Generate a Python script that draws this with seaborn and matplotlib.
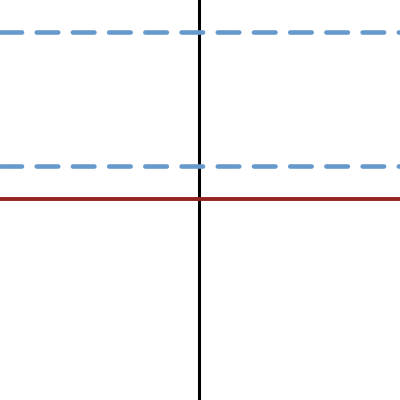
import pandas as pd
import numpy as np
import matplotlib
matplotlib.use('Agg')
import matplotlib.pyplot as plt
import seaborn as sns

# chart values (data units, axes run 0..100 in y and -1..1 in x)
x_span = [-1, 1]
vline_x = -0.003
red_level = 50.3
blue_levels = [58.6, 92.0]

sns.set_style('white')

fig = plt.figure(figsize=(4, 4), dpi=100)
ax = fig.add_axes([0, 0, 1, 1])

# vertical reference line
ax.axvline(vline_x, color='black', lw=2.2, zorder=1)

# red solid level
red_df = pd.DataFrame({'x': x_span, 'y': [red_level] * 2})
sns.lineplot(data=red_df, x='x', y='y', ax=ax, color='#932323',
             lw=2.8, zorder=2)

# blue dashed levels
for lvl in blue_levels:
    df = pd.DataFrame({'x': x_span, 'y': [lvl] * 2})
    sns.lineplot(data=df, x='x', y='y', ax=ax, color='#6699cc', lw=3.3,
                 dashes=False, zorder=3)
    ln = ax.lines[-1]
    ln.set_dashes((4.7, 3.2))
    ln.set_dash_capstyle('round')

ax.set_xlim(x_span)
ax.set_ylim(0, 100)
ax.set_axis_off()

plt.savefig('out.png', dpi=100)
